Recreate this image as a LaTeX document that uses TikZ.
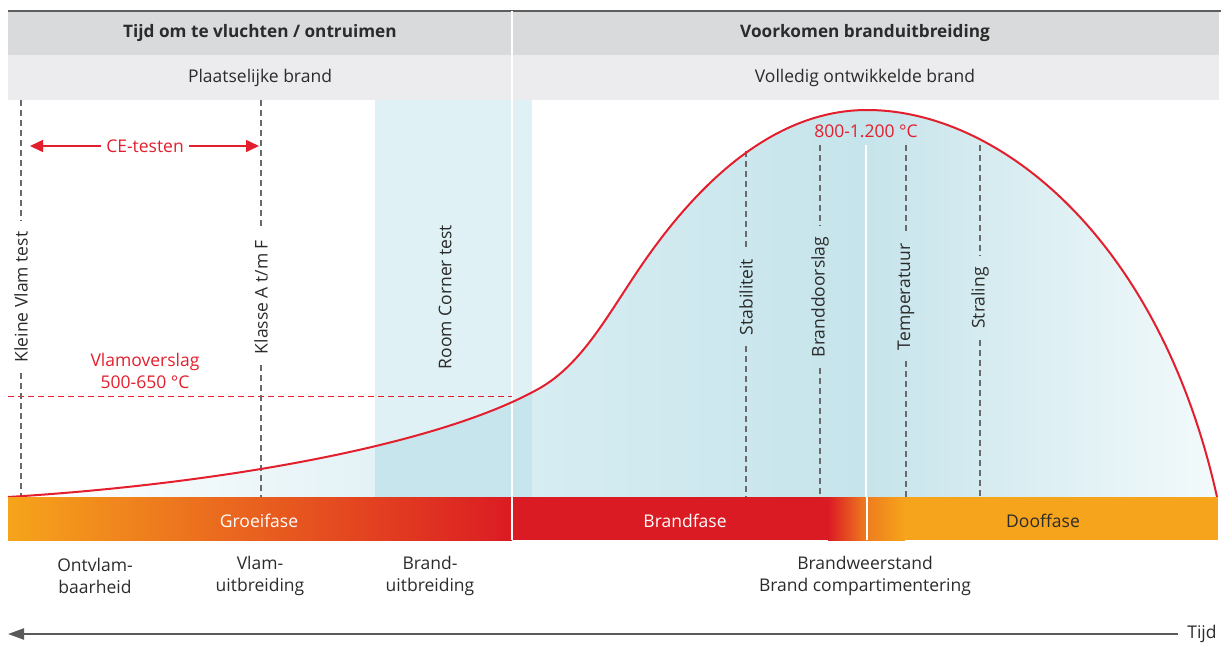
\documentclass[tikz,border=0pt]{standalone}
\usepackage{fontspec}
\setmainfont{Open Sans}
\usetikzlibrary{arrows.meta,positioning}
\definecolor{ink}{HTML}{2B2B2B}
\definecolor{firered}{HTML}{E31E2D}
\definecolor{dashgray}{HTML}{6A6A6A}
\definecolor{hdrdark}{HTML}{D9DADC}
\definecolor{hdrlight}{HTML}{ECECEE}
\definecolor{hdrline}{HTML}{5E5E5E}
\definecolor{bandlight}{HTML}{DFF1F5}
\definecolor{banddark}{HTML}{C6E5EC}
\definecolor{fillA}{HTML}{E3F2F6}
\definecolor{fillB}{HTML}{D6EDF2}
\definecolor{fillC}{HTML}{C6E4EB}
\definecolor{fillD}{HTML}{F3FAFB}
\definecolor{barorange}{HTML}{F6A41B}
\definecolor{barmid}{HTML}{EA6820}
\definecolor{barred}{HTML}{DB1B23}
\definecolor{doofdark}{HTML}{EE7C1E}
\definecolor{timegray}{HTML}{5A5A5A}
\begin{document}
\begin{tikzpicture}[x=1pt, y=-1pt,
    txt/.style={font=\fontsize{17.5}{22}\selectfont, text=ink, inner sep=0pt, align=center},
    hdr/.style={txt, font=\fontsize{17.2}{20}\selectfont\bfseries},
    testlbl/.style={txt, rotate=90, inner sep=11pt},
    testline/.style={draw=dashgray, line width=1.1pt, dash pattern=on 6pt off 4pt},
    redtxt/.style={txt, text=firered},
    bartxt/.style={txt, text=white},
    cearrow/.style={draw=firered, line width=1.6pt, -{Triangle[length=13pt, width=12pt]}},
    sepline/.style={draw=white, line width=2pt}]
\useasboundingbox (0,0) rectangle (1221,646);

% header
\fill[hdrdark] (8,12) rectangle (1219,55);
\fill[hdrlight] (8,55) rectangle (1219,100);
\draw[hdrline, line width=2pt] (8,11) -- (1221,11);
\node[hdr] (hdrL) at (260,33) {Tijd om te vluchten / ontruimen};
\node[hdr] (hdrR) at (865,33) {Voorkomen branduitbreiding};
\node[txt] (subL) at (260,78) {Plaatselijke brand};
\node[txt] (subR) at (865,78) {Volledig ontwikkelde brand};

% room corner band
\fill[bandlight] (375,100) rectangle (532,497);

% fire curve and the area below it
\path[save path=\firecurve] (8,497) .. controls (220,484) and (440,445) .. (540,388)
    .. controls (580,365) and (605,320) .. (635,275)
    .. controls (680,207) and (760,110) .. (867,110)
    .. controls (1000,110) and (1160,240) .. (1217,497);
\begin{scope}
    \clip[use path=\firecurve];
    \shade[left color=white, right color=fillA] (8,100) rectangle (375,497);
    \fill[banddark] (375,100) rectangle (532,497);
    \shade[left color=fillB, right color=fillC] (532,100) rectangle (866,497);
    \shade[left color=fillC, right color=fillD] (866,100) rectangle (1218,497);
\end{scope}
\draw[sepline] (512,11) -- (512,540);
\draw[sepline] (866,145) -- (866,540);

% flashover level
\draw[firered, line width=1pt, dash pattern=on 6pt off 4pt] (8,396) -- (512,396);
\node[redtxt] (flash) at (145,371) {Vlamoverslag\\500-650 °C};

% tests
\node[testlbl] (kvt) at (21,297) {Kleine Vlam test};
\draw[testline] (21,100) -- (kvt.east);
\draw[testline] (kvt.west) -- (21,497);
\node[testlbl] (klasse) at (261,297) {Klasse A t/m F};
\draw[testline] (261,100) -- (klasse.east);
\draw[testline] (klasse.west) -- (261,497);
\node[testlbl] (rct) at (445,297) {Room Corner test};

\node[redtxt] (ce) at (145,146) {CE-testen};
\coordinate (ceL) at (30,146);
\coordinate (ceR) at (259,146);
\draw[cearrow] ([xshift=-5pt]ce.west) -- (ceL);
\draw[cearrow] ([xshift=5pt]ce.east) -- (ceR);

% fire resistance criteria
\node[testlbl] (stab) at (746,297) {Stabiliteit};
\draw[testline] (746,151) -- (stab.east);
\draw[testline] (stab.west) -- (746,497);
\node[testlbl] (bds) at (820,297) {Branddoorslag};
\draw[testline] (820,145) -- (bds.east);
\draw[testline] (bds.west) -- (820,497);
\node[testlbl] (temp) at (906,297) {Temperatuur};
\draw[testline] (906,145) -- (temp.east);
\draw[testline] (temp.west) -- (906,497);
\node[testlbl] (stral) at (980,298) {Straling};
\draw[testline] (980,145) -- (stral.east);
\draw[testline] (stral.west) -- (980,497);

\draw[firered, line width=2pt, use path=\firecurve];
\node[redtxt] (peak) at (866,131) {800-1.200 °C};

% phase bar
\shade[left color=barorange, middle color=barmid, right color=barred] (8,497) rectangle (512,540);
\fill[barred] (512,497) rectangle (866,540);
\shade[left color=barred, right color=doofdark] (828,497) rectangle (866,540);
\fill[barorange] (866,497) rectangle (1218,540);
\shade[left color=doofdark, right color=barorange] (866,497) rectangle (905,540);
\draw[sepline] (512,497) -- (512,540);
\draw[sepline] (867,497) -- (867,540);
\node[bartxt] (groei) at (259,521) {Groeifase};
\node[bartxt] (brand) at (685,521) {Brandfase};
\node[txt] (doof) at (1043,521) {Dooffase};

% properties
\node[txt] (ontvlam) at (95,576) {Ontvlam-\\baarheid};
\node[txt] (vlam) at (260,576) {Vlam-\\uitbreiding};
\node[txt] (branduit) at (430,576) {Brand-\\uitbreiding};
\node[txt] (weerstand) at (865,576) {Brandweerstand\\Brand compartimentering};

% time axis
\node[txt] (tijd) at (1202,634) {Tijd};
\coordinate (tEnd) at (8,634);
\draw[timegray, line width=2.2pt, -{Triangle[length=16pt, width=11pt]}] ([xshift=-9pt]tijd.west) -- (tEnd);
\end{tikzpicture}
\end{document}
